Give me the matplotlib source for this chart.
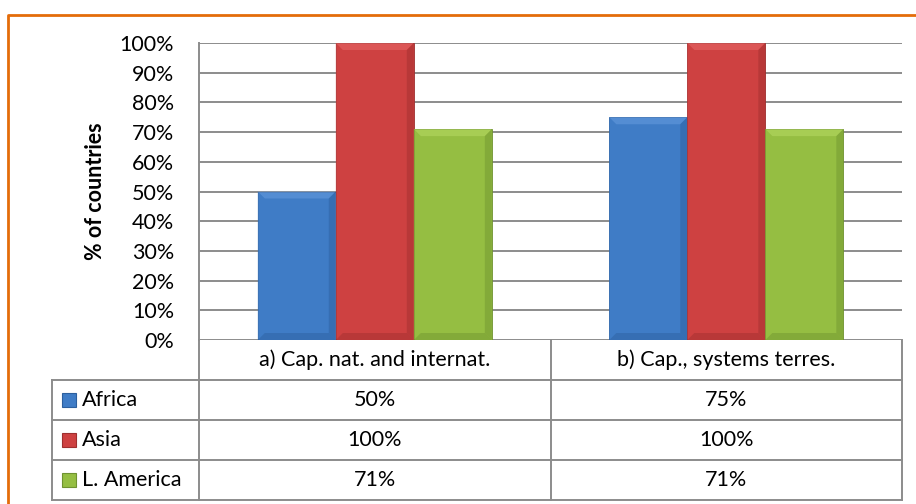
import matplotlib.pyplot as plt
from matplotlib.patches import Polygon, Rectangle
from matplotlib.lines import Line2D
from matplotlib.transforms import IdentityTransform
import numpy as np

plt.rcParams['font.family'] = ['Lato', 'DejaVu Sans']

categories = ["a) Cap. nat. and internat.", "b) Cap., systems terres."]
regions = ["Africa", "Asia", "L. America"]
africa = [50, 75]
asia = [100, 100]
america = [71, 71]
series = [africa, asia, america]

face = ["#3F7CC6", "#CE4141", "#95BE42"]
light = ["#6FA3E4", "#EE7070", "#BEE06A"]
dark = ["#2C5F9E", "#9E2F2F", "#6F9230"]

fs = 15.5
W, H = 916, 504
fig = plt.figure(figsize=(W / 100, H / 100), dpi=100)
left, right, top, bottom = 199, 902, 43, 340
ax = fig.add_axes([left / W, 1 - bottom / H, (right - left) / W, (bottom - top) / H])

x = np.arange(len(categories))
bw = 0.222
bars_all = []
for i, vals in enumerate(series):
    bars = ax.bar(x + (i - 1) * bw, vals, bw, color=face[i], edgecolor=dark[i],
                  linewidth=0.6, zorder=3)
    bars_all.append(bars)

ax.set_xlim(-0.5, 1.5)
ax.set_ylim(0, 100)
ax.set_yticks(np.arange(0, 101, 10))
ax.set_yticklabels([f"{v}%" for v in range(0, 101, 10)], fontsize=fs)
ax.set_xticks([])
ax.tick_params(axis='y', length=0, pad=18)
ax.grid(axis='y', color="#8C8C8C", linewidth=1.4, zorder=0)
for s in ["top", "right", "bottom"]:
    ax.spines[s].set_visible(False)
ax.spines["left"].set_color("#8C8C8C")
ax.spines["left"].set_linewidth(1.4)
ax.text((96 - left) / (right - left), 0.5, "% of countries", transform=ax.transAxes,
        rotation=90, ha="center", va="center", fontsize=fs, fontweight="bold")

# bevel effect on bars
fig.canvas.draw()
bev = 7
for i, bars in enumerate(bars_all):
    for b in bars:
        (x0, y0), (x1, y1) = ax.transData.transform(
            [(b.get_x(), 0), (b.get_x() + b.get_width(), b.get_height())])
        polys = [
            ([(x0, y1), (x1, y1), (x1 - bev, y1 - bev), (x0 + bev, y1 - bev)], light[i]),
            ([(x0, y0), (x1, y0), (x1 - bev, y0 + bev), (x0 + bev, y0 + bev)], dark[i]),
            ([(x0, y0), (x0, y1), (x0 + bev, y1 - bev), (x0 + bev, y0 + bev)], face[i]),
            ([(x1, y0), (x1, y1), (x1 - bev, y1 - bev), (x1 - bev, y0 + bev)], dark[i]),
        ]
        for pts, c in polys:
            fig.patches.append(Polygon(pts, closed=True, facecolor=c, edgecolor="none",
                                       alpha=0.45, transform=IdentityTransform(),
                                       figure=fig, zorder=4))

# data table under the plot
rh = 40 / (bottom - top)
tl = (52 - left) / (right - left)
gc = "#8C8C8C"
def hline(y, x0, x1):
    ax.add_line(Line2D([x0, x1], [y, y], transform=ax.transAxes, color=gc,
                       lw=1.4, clip_on=False))
def vline(xx, y0, y1):
    ax.add_line(Line2D([xx, xx], [y0, y1], transform=ax.transAxes, color=gc,
                       lw=1.4, clip_on=False))

nrows = len(regions) + 1
hline(-rh, tl, 1)
for r in range(2, nrows + 1):
    hline(-r * rh, tl, 1)
vline(0, 0, -nrows * rh)
vline(0.5, 0, -nrows * rh)
vline(1, 0, -nrows * rh)
vline(tl, -rh, -nrows * rh)

for j, cat in enumerate(categories):
    ax.text(0.25 + 0.5 * j, -0.5 * rh, cat, transform=ax.transAxes,
            ha="center", va="center", fontsize=fs)
    for i, vals in enumerate(series):
        ax.text(0.25 + 0.5 * j, -(i + 1.5) * rh, f"{vals[j]}%", transform=ax.transAxes,
                ha="center", va="center", fontsize=fs)

sq = 14 / (right - left)
sqh = 14 / (bottom - top)
for i, name in enumerate(regions):
    yc = -(i + 1.5) * rh
    ax.add_patch(Rectangle((tl + 10 / (right - left), yc - sqh / 2), sq, sqh,
                           transform=ax.transAxes, facecolor=face[i],
                           edgecolor=dark[i], lw=0.8, clip_on=False))
    ax.text(tl + 30 / (right - left), yc, name, transform=ax.transAxes,
            ha="left", va="center", fontsize=fs)

# orange frame
fig.add_artist(Line2D([8 / W, 8 / W, 1.01], [0, 1 - 15 / H, 1 - 15 / H],
                      transform=fig.transFigure, color="#E46C0A", lw=2))

fig.savefig("out.png", dpi=100)
